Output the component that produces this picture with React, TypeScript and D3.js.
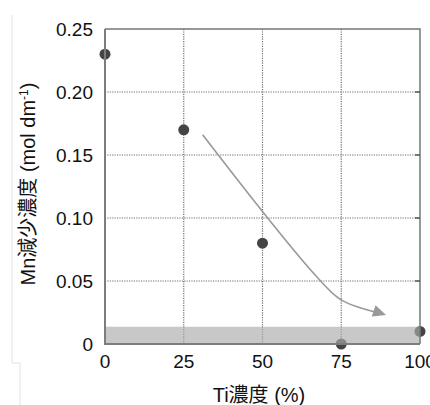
import React from 'react';
import * as d3 from 'd3';

// Ti concentration (%) vs Mn decrease (mol dm-1)
const tiConc = [0, 25, 50, 75, 100];
const mnDecrease = [0.23, 0.17, 0.08, 0.0, 0.01];

const xTicks = [0, 25, 50, 75, 100];
const yTicks = [0, 0.05, 0.1, 0.15, 0.2, 0.25];

// hand-drawn trend arrow (x %, y mol dm-1)
const trendX = [31, 51, 67, 75, 88];
const trendY = [0.166, 0.102, 0.054, 0.035, 0.024];

// shaded band near zero
const bandTop = 0.0137;

const W = 430;
const H = 405;
const margin = { top: 29, right: 10, bottom: 61, left: 105 };

const FONT = '"Liberation Sans", Arial, "Noto Sans CJK JP", sans-serif';

export default function App() {
    const x = d3.scaleLinear().domain([0, 100]).range([margin.left, 420]);
    const y = d3.scaleLinear().domain([0, 0.25]).range([H - margin.bottom, margin.top]);

    const trend = trendX.map((v, i) => [x(v), y(trendY[i])] as [number, number]);
    const trendPath = d3.line().curve(d3.curveCatmullRom.alpha(0.5))(trend) || '';

    // arrow head direction from last two points
    const p1 = trend[trend.length - 2];
    const p2 = trend[trend.length - 1];
    const ang = Math.atan2(p2[1] - p1[1], p2[0] - p1[0]);

    const x0 = x(0), x1 = x(100), y0 = y(0), y1 = y(0.25);

    return (
        <svg width={W} height={H} style={{ position: 'absolute', left: 0, top: 0, background: '#fff' }}
            fontFamily={FONT}>
            {/* faint frame of the original crop */}
            <path d="M12,15 V363 H20 V405" fill="none" stroke="#e2e2e2" strokeWidth={1} />

            {/* grid */}
            {xTicks.filter(t => t > 0 && t < 100).map(t => (
                <line key={'gx' + t} x1={x(t)} x2={x(t)} y1={y1} y2={y0}
                    stroke="#6f6f6f" strokeWidth={1.2} strokeDasharray="1.2,1.2" />
            ))}
            {yTicks.filter(t => t > 0 && t < 0.25).map(t => (
                <line key={'gy' + t} x1={x0} x2={x1} y1={y(t)} y2={y(t)}
                    stroke="#6f6f6f" strokeWidth={1.2} strokeDasharray="1.2,1.2" />
            ))}

            {/* trend arrow */}
            <path d={trendPath} fill="none" stroke="#999" strokeWidth={1.6} />
            <path d="M0,0 L-13,-6 L-13,6 Z" fill="#999"
                transform={`translate(${p2[0] + 4 * Math.cos(ang)},${p2[1] + 4 * Math.sin(ang)}) rotate(${ang * 180 / Math.PI})`} />

            {/* points */}
            {tiConc.map((t, i) => (
                <circle key={'p' + t} cx={x(t)} cy={y(mnDecrease[i])} r={5.5} fill="#444" />
            ))}

            {/* band */}
            <rect x={x0} y={y(bandTop)} width={x1 - x0} height={y0 - y(bandTop)}
                fill="rgb(171,171,171)" fillOpacity={0.66} />

            {/* frame */}
            <path d={`M${x0},${y1} H${x1} V${y0}`} fill="none" stroke="#777" strokeWidth={1.5} />
            {yTicks.filter(t => t > 0 && t < 0.25).map(t => (
                <line key={'rt' + t} x1={x1 - 5} x2={x1} y1={y(t)} y2={y(t)} stroke="#555" strokeWidth={1.5} />
            ))}
            <line x1={x0} x2={x0} y1={y1} y2={y0 + 1} stroke="#7d7d7d" strokeWidth={2} />
            <line x1={x0 - 1} x2={x1} y1={y0} y2={y0} stroke="#7d7d7d" strokeWidth={2} />

            {/* y tick labels */}
            {yTicks.map(t => (
                <text key={'yl' + t} x={93} y={y(t)} dy="0.35em" textAnchor="end" fontSize={19} fill="#111">
                    {t === 0 ? '0' : d3.format('.2f')(t)}
                </text>
            ))}
            {/* x tick labels */}
            {xTicks.map(t => (
                <text key={'xl' + t} x={x(t)} y={361} dy="0.35em" textAnchor="middle" fontSize={19} fill="#111">
                    {t}
                </text>
            ))}

            {/* axis titles */}
            <text transform="translate(28,184) rotate(-90)" textAnchor="middle" dy="0.35em" fontSize={20} fill="#111">
                Mn減少濃度 (mol dm<tspan dy="-7" fontSize={12}>-1</tspan><tspan dy="7">)</tspan>
            </text>
            <text x={259} y={395} dy="0.35em" textAnchor="middle" fontSize={20} fill="#111">
                Ti濃度 (%)
            </text>
        </svg>
    );
}
